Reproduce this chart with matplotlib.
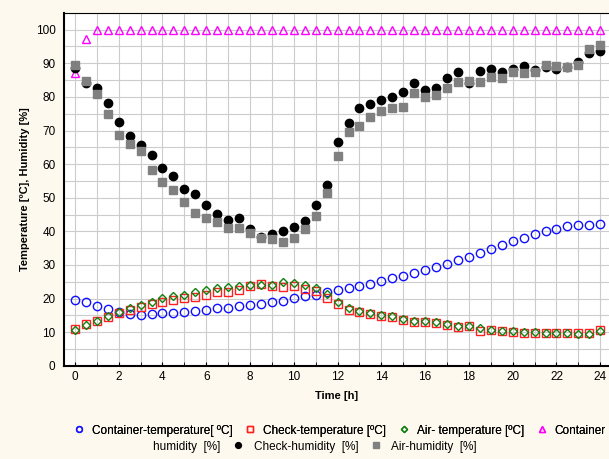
import numpy as np
import matplotlib.pyplot as plt
from matplotlib.lines import Line2D
from matplotlib.ticker import MultipleLocator

plt.rcParams['font.family'] = ['Liberation Sans', 'DejaVu Sans']

# time axis, readings every half hour
hours = np.arange(0, 24.5, 0.5)

container_temp = [19.6, 19.0, 17.7, 16.9, 16.1, 15.5, 15.2, 15.3, 15.6, 15.7,
                  16.0, 16.3, 16.5, 17.1, 17.3, 17.7, 18.1, 18.4, 19.1, 19.3,
                  20.1, 20.7, 21.1, 21.9, 22.6, 23.2, 23.8, 24.4, 25.3, 26.1,
                  26.7, 27.7, 28.4, 29.3, 30.4, 31.5, 32.3, 33.6, 34.7, 35.9,
                  37.1, 38.0, 39.1, 40.1, 40.7, 41.6, 42.0, 42.0, 42.3]
check_temp = [11.0, 12.4, 13.4, 14.4, 15.7, 16.7, 17.6, 18.4, 18.9, 19.7,
              20.1, 20.6, 21.1, 21.9, 22.1, 22.6, 23.6, 24.4, 23.6, 23.3,
              23.6, 22.8, 22.3, 20.3, 18.3, 16.7, 16.1, 15.4, 14.9, 14.6,
              13.7, 13.0, 13.0, 12.7, 12.0, 11.5, 11.7, 10.5, 10.6, 10.3,
              10.2, 9.9, 9.9, 9.7, 9.7, 9.7, 9.8, 9.7, 10.8]
air_temp = [10.6, 12.2, 13.4, 14.7, 15.9, 17.1, 18.1, 18.9, 20.1, 20.7,
            21.1, 22.1, 22.5, 23.1, 23.4, 23.8, 24.1, 24.1, 24.1, 24.8,
            24.6, 24.0, 23.2, 21.4, 18.9, 17.3, 16.4, 15.7, 15.2, 14.9,
            13.9, 13.4, 13.4, 12.9, 12.4, 11.8, 11.8, 11.2, 10.8, 10.5,
            10.3, 10.1, 10.1, 9.8, 9.8, 9.7, 9.4, 9.4, 10.4]
container_hum = [87.0, 97.3] + [100.0] * 47
check_hum = [88.6, 84.0, 82.7, 78.3, 72.6, 68.4, 65.7, 62.6, 58.9, 56.4,
             52.6, 51.0, 47.8, 45.1, 43.4, 44.1, 40.8, 38.2, 39.2, 40.1,
             41.4, 43.1, 47.8, 53.7, 66.6, 72.3, 76.7, 78.0, 79.0, 80.0,
             81.4, 84.0, 82.1, 82.7, 85.7, 87.4, 84.0, 87.7, 88.2, 87.4,
             88.4, 89.2, 88.1, 89.0, 88.4, 89.0, 90.4, 93.1, 93.6]
air_hum = [89.6, 84.7, 81.0, 75.0, 68.7, 66.0, 64.0, 58.3, 54.6, 52.2,
           48.7, 45.6, 44.1, 42.9, 40.9, 40.9, 39.6, 38.0, 37.7, 36.7,
           38.0, 40.7, 44.6, 51.3, 62.4, 69.6, 71.3, 74.0, 75.7, 76.7,
           77.1, 81.3, 80.0, 80.7, 82.7, 84.4, 84.7, 84.4, 86.0, 85.7,
           87.4, 87.2, 87.5, 89.4, 89.2, 89.0, 89.6, 94.3, 95.3]

bg = '#fdf9ee'
fig = plt.figure(figsize=(6.09, 4.59), dpi=100, facecolor=bg)
ax = fig.add_axes([0.105, 0.203, 0.895, 0.769])

ax.plot(hours, container_temp, 'o', mfc='none', mec='#1010ff', ms=6, mew=1.0,
        label='Container-temperature[ ºC]')
ax.plot(hours, check_temp, 's', mfc='none', mec='#ff2020', ms=6, mew=1.0,
        label='Check-temperature [ºC]')
ax.plot(hours, air_temp, 'D', mfc='none', mec='#108010', ms=4.5, mew=1.0,
        label='Air- temperature [ºC]')
ax.plot(hours, container_hum, '^', mfc='none', mec='#ff00ff', ms=5.5, mew=1.0,
        label='Container')
ax.plot(hours, check_hum, 'o', color='black', ms=6, label='Check-humidity  [%]')
ax.plot(hours, air_hum, 's', color='#808080', ms=6, label='Air-humidity  [%]')

ax.set_xlim(-0.5, 24.4)
ax.set_ylim(0, 105)
ax.xaxis.set_major_locator(MultipleLocator(2))
ax.xaxis.set_minor_locator(MultipleLocator(1))
ax.yaxis.set_major_locator(MultipleLocator(10))
ax.yaxis.set_minor_locator(MultipleLocator(5))
ax.grid(True, which='both', color='#cccccc', linewidth=0.8)
ax.set_axisbelow(True)
ax.tick_params(which='both', direction='in', labelsize=8.5, length=3)
ax.tick_params(axis='y', which='both', length=0, pad=6)
ax.tick_params(axis='x', which='minor', length=3)
ax.spines['right'].set_visible(False)
ax.spines['left'].set_linewidth(1.5)
ax.spines['bottom'].set_linewidth(1.5)

ax.set_xlabel('Time [h]', fontsize=8, fontweight='bold', labelpad=6)
ax.set_ylabel('Temperature [ºC], Humidity [%]', fontsize=8, fontweight='bold')

# legend split over two rows like the original
handles, labels = ax.get_legend_handles_labels()
leg1 = fig.legend(handles[:4], labels[:4], loc='center', ncol=4,
                  bbox_to_anchor=(0.556, 0.062), frameon=False, fontsize=8.5,
                  markerscale=0.7, handlelength=1.2, handletextpad=0.5,
                  columnspacing=0.9)
blank = Line2D([], [], linestyle='none')
leg2 = fig.legend([blank] + handles[4:], ['humidity  [%]'] + labels[4:],
                  loc='center', ncol=3, bbox_to_anchor=(0.50, 0.027),
                  frameon=False, fontsize=8.5, markerscale=0.7,
                  handlelength=1.0, handletextpad=0.8, columnspacing=1.0)
fig.add_artist(leg1)

fig.savefig('out.png', dpi=100, facecolor=bg)
